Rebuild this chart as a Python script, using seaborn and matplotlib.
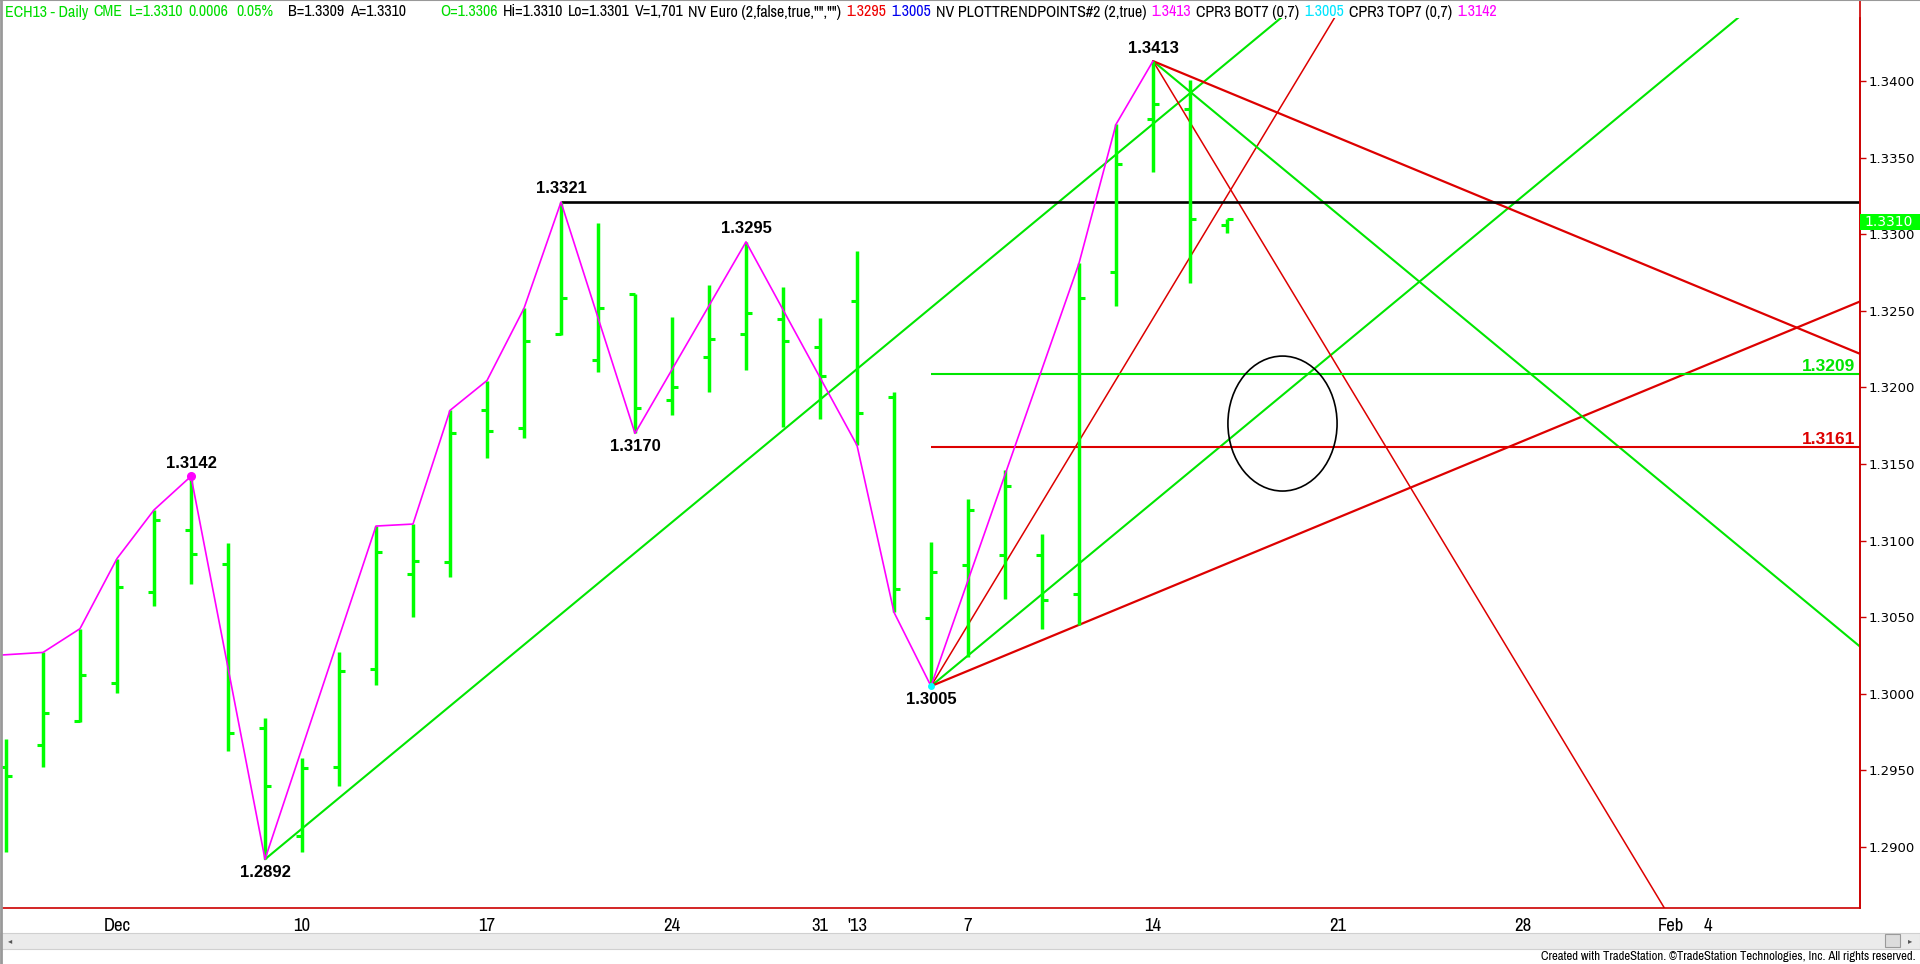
import pandas as pd
import matplotlib
matplotlib.use('Agg')
import matplotlib.pyplot as plt
import matplotlib.transforms as mtransforms
from matplotlib import font_manager
from matplotlib.patches import Ellipse, Rectangle
from matplotlib.lines import Line2D
import seaborn as sns

# ---- data ----
bar_dates = ['2012-11-28', '2012-11-29', '2012-11-30', '2012-12-03', '2012-12-04', '2012-12-05',
             '2012-12-06', '2012-12-07', '2012-12-10', '2012-12-11', '2012-12-12', '2012-12-13',
             '2012-12-14', '2012-12-17', '2012-12-18', '2012-12-19', '2012-12-20', '2012-12-21',
             '2012-12-24', '2012-12-26', '2012-12-27', '2012-12-28', '2012-12-31', '2013-01-02',
             '2013-01-03', '2013-01-04', '2013-01-07', '2013-01-08', '2013-01-09', '2013-01-10',
             '2013-01-11', '2013-01-14', '2013-01-15', '2013-01-16']
opens = [1.29525, 1.29665, 1.2982, 1.3007, 1.30665, 1.3107, 1.3085, 1.29775, 1.2907, 1.29525,
         1.3016, 1.3078, 1.30858, 1.3185, 1.31733, 1.32346, 1.32179, 1.32608, 1.31915, 1.32196,
         1.32346, 1.32446, 1.32264, 1.32563, 1.31939, 1.30497, 1.3084, 1.30907, 1.30907, 1.30652,
         1.32755, 1.3375, 1.33817, 1.3306]
highs = [1.29708, 1.3027, 1.30425, 1.30883, 1.3120, 1.3142, 1.30983, 1.29845, 1.29583, 1.30275,
         1.31095, 1.31108, 1.3185, 1.32045, 1.32516, 1.3321, 1.33075, 1.32608, 1.32462, 1.32671,
         1.3295, 1.32656, 1.32451, 1.32888, 1.31971, 1.30989, 1.31272, 1.31464, 1.3104, 1.3281,
         1.33717, 1.3413, 1.34007, 1.3310]
lows = [1.2897, 1.29525, 1.29813, 1.30008, 1.3057, 1.30715, 1.29625, 1.2892, 1.2897, 1.29395,
        1.3006, 1.3050, 1.30765, 1.3154, 1.3167, 1.3234, 1.32103, 1.3170, 1.3182, 1.31971,
        1.32114, 1.31739, 1.31794, 1.31622, 1.30532, 1.3005, 1.3024, 1.30622, 1.30422, 1.30452,
        1.32531, 1.33408, 1.32684, 1.3301]
closes = [1.29463, 1.29875, 1.3012, 1.3070, 1.31133, 1.30913, 1.29745, 1.29395, 1.29515, 1.3015,
          1.30925, 1.3087, 1.3170, 1.31715, 1.3230, 1.32582, 1.32516, 1.31863, 1.3200, 1.32316,
          1.32483, 1.32301, 1.32076, 1.31831, 1.30682, 1.30797, 1.31197, 1.31357, 1.30615, 1.32582,
          1.33456, 1.3385, 1.33097, 1.3310]

swing_dates = ['2012-11-27', '2012-11-29', '2012-11-30', '2012-12-03', '2012-12-04', '2012-12-05',
               '2012-12-07', '2012-12-12', '2012-12-13', '2012-12-14', '2012-12-17', '2012-12-18',
               '2012-12-19', '2012-12-21', '2012-12-27', '2013-01-02', '2013-01-03', '2013-01-04',
               '2013-01-10', '2013-01-11', '2013-01-14']
swing_prices = [1.3024, 1.3027, 1.30425, 1.30883, 1.3120, 1.3142, 1.2892, 1.31095, 1.31108, 1.3185,
                1.32045, 1.32516, 1.3321, 1.3170, 1.3295, 1.31622, 1.30532, 1.3005, 1.3281, 1.33717,
                1.3413]

pivot_dates = ['2012-12-05', '2012-12-07', '2012-12-19', '2012-12-21', '2012-12-27', '2013-01-04', '2013-01-14']
pivot_prices = [1.3142, 1.2892, 1.3321, 1.3170, 1.3295, 1.3005, 1.3413]
pivot_above = [True, False, True, False, True, False, True]

# gann-style trend lines: anchor date, anchor price, slope per bar, colour
fan_dates = ['2012-12-07', '2013-01-04', '2013-01-04', '2013-01-04', '2013-01-14', '2013-01-14', '2013-01-14']
fan_prices = [1.2892, 1.3005, 1.3005, 1.3005, 1.3413, 1.3413, 1.3413]
fan_slopes = [0.002, 0.002, 0.004, 0.001, -0.002, -0.001, -0.004]
fan_colors = ['#00e600', '#00e600', '#dd0000', '#dd0000', '#00e600', '#dd0000', '#dd0000']
fan_widths = [1.5, 1.5, 1.1, 1.6, 1.5, 1.6, 1.1]

resist_date, resist_price = '2012-12-19', 1.3321
level_start = '2013-01-04'
level_prices = [1.3209, 1.3161]
level_colors = ['#00e600', '#dd0000']

circle_center = (31.5, 1.31764)   # bar position, price
circle_size = (2.95, 0.00881)

tick_dates = ['2012-12-03', '2012-12-10', '2012-12-17', '2012-12-24', '2012-12-31', '2013-01-02',
              '2013-01-07', '2013-01-14', '2013-01-21', '2013-01-28', '2013-02-01', '2013-02-04']
tick_labels = ['Dec', '10', '17', '24', '31', "'13", '7', '14', '21', '28', 'Feb', '4']
price_ticks = [1.2900, 1.2950, 1.3000, 1.3050, 1.3100, 1.3150, 1.3200, 1.3250, 1.3300, 1.3350, 1.3400]
last_price = 1.3310

header = [(3, 'ECH13 - Daily', 'lime'), (92, 'CME', 'lime'), (129, 'L=1.3310', 'lime'),
          (184, '0.0006', 'lime'), (236, '0.05%', 'lime'), (288, 'B=1.3309', 'k'),
          (350, 'A=1.3310', 'k'), (440, 'O=1.3306', 'lime'), (478, 'Hi=1.3310', 'k'),
          (542, 'Lo=1.3301', 'k'), (612, 'V=1,701', 'k'), (667, 'NV Euro (2,false,true,"","")', 'k'),
          (828, '1.3295', 'red'), (877, '1.3005', 'blue'), (922, 'NV PLOTTRENDPOINTS#2 (2,true)', 'k'),
          (1142, '1.3413', 'magenta'), (1187, 'CPR3 BOT7 (0,7)', 'k'), (1300, '1.3005', 'cyan'),
          (1345, 'CPR3 TOP7 (0,7)', 'k'), (1457, '1.3142', 'magenta')]

# ---- trading-day positions (Dec 3 = 0) ----
cal = pd.bdate_range('2012-11-26', '2013-02-15', freq='C', holidays=['2012-12-25', '2013-01-01'])
pos_of = {d.strftime('%Y-%m-%d'): i for i, d in enumerate(cal)}
base = pos_of['2012-12-03']


def pos(d):
    return pos_of[d] - base


bars = pd.DataFrame({'x': [pos(d) for d in bar_dates], 'open': opens, 'high': highs,
                     'low': lows, 'close': closes})
swing = pd.DataFrame({'x': [pos(d) for d in swing_dates], 'price': swing_prices})

# ---- style ----
sns.set_style('white')
names = {f.name for f in font_manager.fontManager.ttflist}
narrow = next((n for n in sorted(names) if 'Narrow' in n or 'Condensed' in n), 'Liberation Sans')
plt.rcParams['font.family'] = ['DejaVu Sans']

W, H = 1920, 964
PX_DAY, X0 = 37.0, 117.0          # pixel layout of the bar axis
PX_PRICE, Y1340 = 15320.0, 81.0   # pixel layout of the price axis
TOP, BOTTOM, LEFT, RIGHT = 18, 908, 2, 1860

fig = plt.figure(figsize=(W / 100, H / 100), dpi=100)
ax = fig.add_axes([LEFT / W, 1 - BOTTOM / H, (RIGHT - LEFT) / W, (BOTTOM - TOP) / H])
xmin, xmax = (LEFT - X0) / PX_DAY, (RIGHT - X0) / PX_DAY
ax.set_xlim(xmin, xmax)
ax.set_ylim(1.34 - (BOTTOM - Y1340) / PX_PRICE, 1.34 + (Y1340 - TOP) / PX_PRICE)

# trend lines
for d, p, s, c, lw in zip(fan_dates, fan_prices, fan_slopes, fan_colors, fan_widths):
    x0 = pos(d)
    ax.plot([x0, xmax], [p, p + s * (xmax - x0)], color=c, lw=lw, zorder=2)

ax.hlines(resist_price, pos(resist_date), xmax, color='black', lw=1.9, zorder=2)
blend = mtransforms.blended_transform_factory(ax.transAxes, ax.transData)
for p, c in zip(level_prices, level_colors):
    ax.hlines(p, pos(level_start), xmax, color=c, lw=1.5, zorder=2)
    ax.text(0.9975, p, f'{p:.4f}', transform=blend, ha='right', va='bottom', color=c,
            fontsize=12.5, fontweight='bold', family='Liberation Sans')

ax.add_patch(Ellipse(circle_center, circle_size[0], circle_size[1], fill=False,
                     edgecolor='black', lw=1.2, zorder=3))

# OHLC bars
bar_green = '#00ff00'
tick_w = 0.17
ax.vlines(bars['x'], bars['low'], bars['high'], color=bar_green, lw=2.5, zorder=4)
ax.hlines(bars['open'], bars['x'] - tick_w, bars['x'], color=bar_green, lw=2.2, zorder=4)
ax.hlines(bars['close'], bars['x'], bars['x'] + tick_w, color=bar_green, lw=2.2, zorder=4)

# swing line
sns.lineplot(data=swing, x='x', y='price', sort=False, estimator=None, color='#ff00ff',
             lw=1.2, ax=ax, zorder=5)
ax.plot(pos('2012-12-05'), 1.3142, 'o', color='#ff00ff', ms=5.5, zorder=6)
ax.plot(pos('2013-01-04'), 1.3005, 'o', color='#00ffff', ms=4, zorder=6)

for d, p, up in zip(pivot_dates, pivot_prices, pivot_above):
    ax.annotate(f'{p:.4f}', (pos(d), p), xytext=(0, 4 if up else -4), textcoords='offset points',
                ha='center', va='bottom' if up else 'top', fontsize=12, fontweight='bold',
                family='Liberation Sans', color='black', zorder=7)

# axes look
for side in ['top', 'left']:
    ax.spines[side].set_visible(False)
for side in ['right', 'bottom']:
    ax.spines[side].set_color('#cc0000')
    ax.spines[side].set_linewidth(1.2)
ax.yaxis.tick_right()
ax.set_yticks(price_ticks)
ax.set_yticklabels([f'{p:.4f}' for p in price_ticks])
ax.tick_params(axis='y', colors='#cc0000', labelcolor='black', length=4, width=1,
               pad=2, labelsize=9.5, direction='out')
ax.set_xticks([pos(d) for d in tick_dates])
ax.set_xticklabels(tick_labels, family=narrow, fontsize=13.5)
ax.tick_params(axis='x', colors='#cc0000', labelcolor='black', length=5, width=1,
               pad=2, direction='out')
ax.set_xlabel('')
ax.set_ylabel('')
ax.grid(False)

# last price marker on the axis
fig_blend = mtransforms.blended_transform_factory(fig.transFigure, ax.transData)
box_h = 16 / PX_PRICE
box_mid = last_price - 3 / PX_PRICE
fig.add_artist(Rectangle((RIGHT / W, box_mid - box_h / 2), (W - RIGHT) / W, box_h,
                         transform=fig_blend, fc='#00ff00', ec='none', clip_on=False, zorder=8))
fig.text((RIGHT + 4) / W, box_mid, f'{last_price:.4f}', transform=fig_blend, ha='left',
         va='center', color='white', fontsize=10, zorder=9)

# frame pieces outside the plot
fig.add_artist(Line2D([RIGHT / W, RIGHT / W], [1 - BOTTOM / H, 1], color='#cc0000', lw=1.2))
fig.add_artist(Line2D([0.0005, 0.0005], [0, 1], color='#999999', lw=2))
fig.add_artist(Line2D([0, 1], [0.9995, 0.9995], color='#999999', lw=1.5))
fig.add_artist(Rectangle((0, 1 - 949 / H), 1, 16 / H, fc='#ebebeb', ec='#d0d0d0', lw=0.8))
fig.add_artist(Rectangle((1885 / W, 1 - 947 / H), 15 / W, 13 / H, fc='#dcdcdc', ec='#9a9a9a', lw=0.8))
fig.text(8 / W, 1 - 941 / H, '\u25c2', fontsize=6, color='#555555', va='center')
fig.text(1908 / W, 1 - 941 / H, '\u25b8', fontsize=6, color='#555555', va='center')
fig.text(1916 / W, 1 - 957 / H,
         'Created with TradeStation. \u00a9TradeStation Technologies, Inc. All rights reserved.',
         ha='right', va='center', fontsize=9.2, family=narrow, color='black')

# header line: keep the reference start points but never let pieces run into each other
hdr_colors = {'lime': '#00dd00', 'k': 'black', 'red': '#ee0000', 'blue': '#0000ee',
              'magenta': '#ff00ff', 'cyan': '#00e5ff'}
renderer = fig.canvas.get_renderer()
cursor = 0
for x, s, c in header:
    start = max(x, cursor + 5)
    t = fig.text(start / W, 1 - 12 / H, s, ha='left', va='center', fontsize=11.5, family=narrow,
                 color=hdr_colors[c])
    cursor = t.get_window_extent(renderer=renderer).x1

fig.savefig('out.png', dpi=100, facecolor='white')
